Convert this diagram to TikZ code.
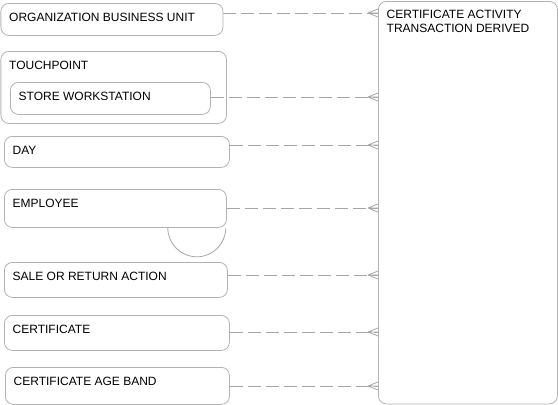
\documentclass[tikz,border=0pt]{standalone}
\usepackage{fontspec}
\setmainfont{Liberation Sans}
\usepackage{tikz}

\begin{document}
\begin{tikzpicture}[x=1pt,y=-1pt]
            \tikzstyle{every node}=[font=\fontsize{12}{13.5}\selectfont];
            \tikzstyle{entity}=[draw=black!30,line width=0.8pt,rounded corners=8pt,anchor=north west,inner sep=0pt];
            \tikzstyle{title}=[anchor=north west,inner sep=0pt,align=left,xshift=8.5pt,yshift=-10pt];
            \tikzstyle{rel}=[draw=black!35,line width=0.8pt,dash pattern=on 13pt off 5pt];
            \tikzstyle{crow}=[draw=black!35,line width=0.8pt];
            \useasboundingbox (0,0) rectangle (558,405);
            \node[entity,minimum width=222pt,minimum height=32pt,label={[title]north west:ORGANIZATION BUSINESS UNIT}] (obu) at (0.5,3) {};
            \node[entity,minimum width=225.5pt,minimum height=72pt,label={[title]north west:TOUCHPOINT}] (tp) at (0.5,51) {};
            \node[entity,minimum width=200pt,minimum height=32pt,label={[title]north west:STORE WORKSTATION}] (sw) at (10,82) {};
            \node[entity,minimum width=225pt,minimum height=31pt,label={[title]north west:DAY}] (day) at (4,136) {};
            \node[entity,minimum width=222pt,minimum height=38pt,label={[title]north west:EMPLOYEE}] (emp) at (4,189) {};
            \node[entity,minimum width=223pt,minimum height=35pt,label={[title]north west:SALE OR RETURN ACTION}] (sale) at (4,262) {};
            \node[entity,minimum width=225pt,minimum height=35pt,label={[title]north west:CERTIFICATE}] (cert) at (4,315) {};
            \node[entity,minimum width=224pt,minimum height=37pt,label={[title]north west:CERTIFICATE AGE BAND}] (cab) at (5,367) {};
            \node[entity,minimum width=179pt,minimum height=402.5pt,label={[title,yshift=1pt]north west:CERTIFICATE ACTIVITY\\TRANSACTION DERIVED}] (catd) at (378,1) {};
            \coordinate (e1) at (378,13);
            \coordinate (e2) at (378,97);
            \coordinate (e3) at (378,145);
            \coordinate (e4) at (378,208);
            \coordinate (e5) at (378,275);
            \coordinate (e6) at (378,332);
            \coordinate (e7) at (378,386);
            \path[rel] (obu.east |- e1) -- (e1);
            \path[rel] (sw.east |- e2) -- (e2);
            \path[rel] (day.east |- e3) -- (e3);
            \path[rel] (emp.east |- e4) -- (e4);
            \path[rel] (sale.east |- e5) -- (e5);
            \path[rel] (cert.east |- e6) -- (e6);
            \path[rel] (cab.east |- e7) -- (e7);
            \foreach \e in {e1,e2,e3,e4,e5,e6,e7}
                \path[crow] ([xshift=-10pt]\e) -- ([yshift=4pt]\e) ([xshift=-10pt]\e) -- ([yshift=-4pt]\e) ([xshift=-10pt]\e) -- (\e);
            \path[crow] ([xshift=-59pt]emp.south east) arc[start angle=180,end angle=360,radius=29pt];
        \end{tikzpicture}
\end{document}
